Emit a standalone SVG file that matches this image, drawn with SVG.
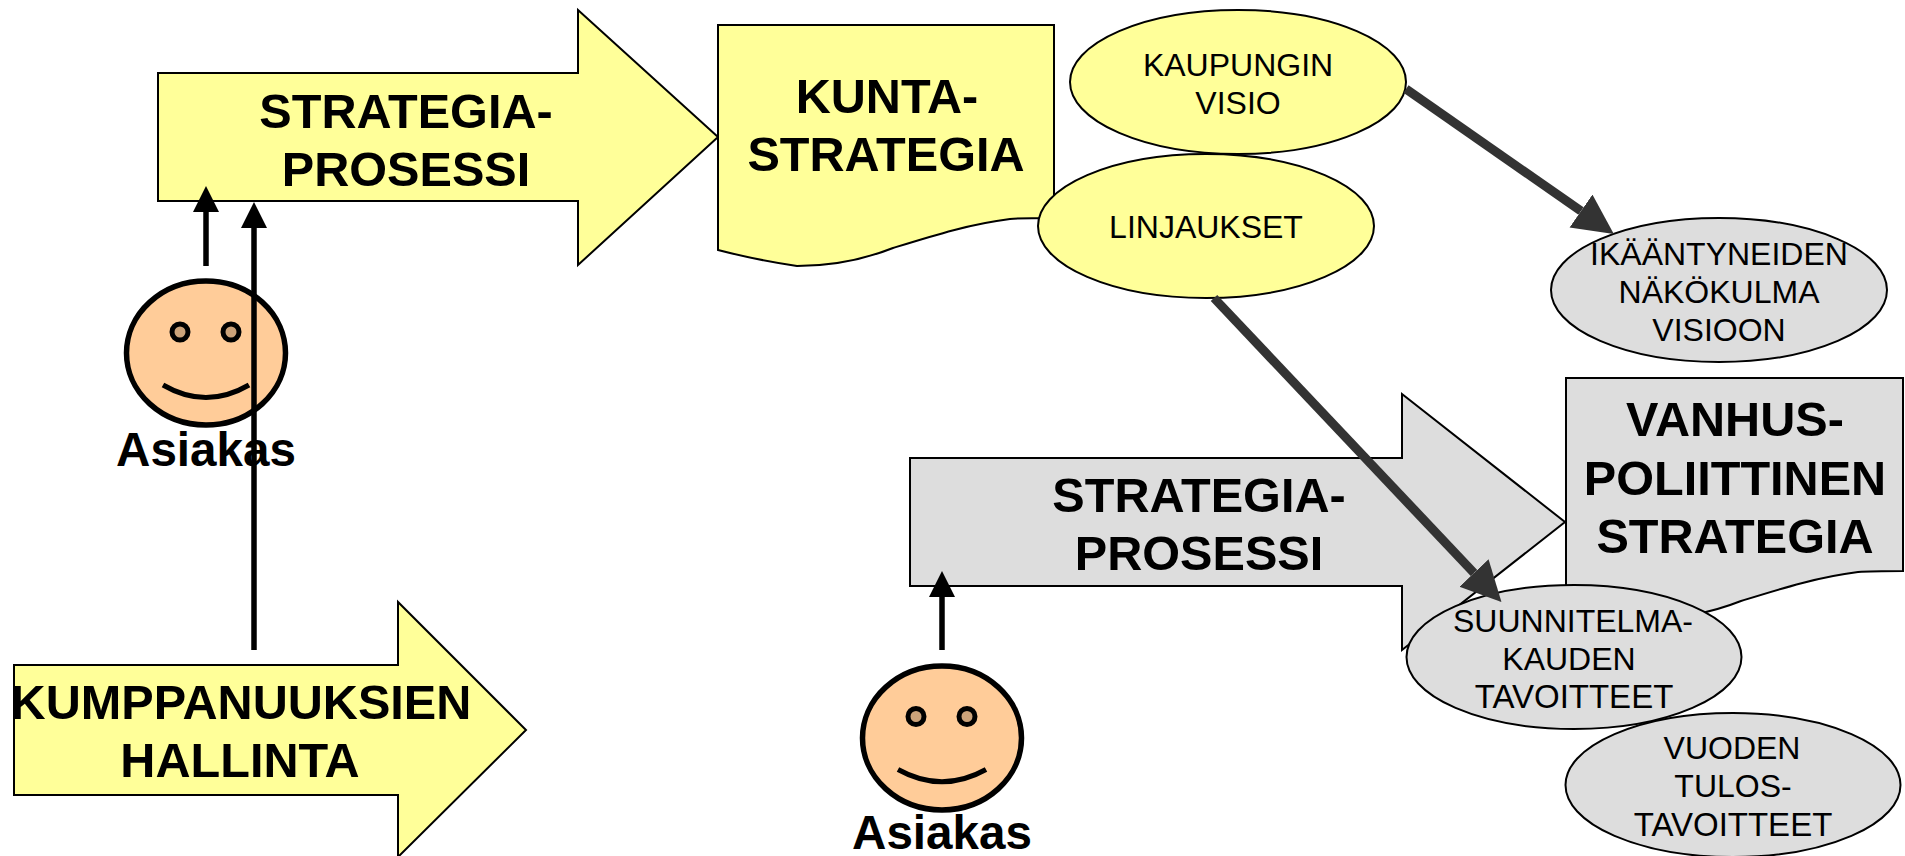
<svg xmlns="http://www.w3.org/2000/svg" width="1905" height="856" viewBox="0 0 1905 856">
<style>
text{font-family:"Liberation Sans",Arial,sans-serif;fill:#000;text-anchor:middle}
.b{font-weight:bold;font-size:48.6px}
.n{font-size:32px}
.t{font-size:33px}
.a{font-weight:bold;font-size:47.600px}
.y{fill:#FFFF99;stroke:#000;stroke-width:2}
.g{fill:#DDDDDD;stroke:#000;stroke-width:2}
.skin{fill:#FFCC99;stroke:#000;stroke-width:5.500}
.eye{fill:#CCA37A;stroke:#000;stroke-width:5}
.smile{fill:none;stroke:#000;stroke-width:5}
.k{fill:none;stroke:#000;stroke-width:5.500}
.d{fill:none;stroke:#333;stroke-width:9}
</style>
<defs>
<marker id="ka" markerUnits="userSpaceOnUse" markerWidth="28" markerHeight="28" refX="0" refY="13" orient="auto"><path d="M0 0L26 13L0 26Z" fill="#000"/></marker>
<marker id="da" markerUnits="userSpaceOnUse" markerWidth="44" markerHeight="44" refX="0" refY="20" orient="auto"><path d="M0 0L40 20L0 40Z" fill="#333"/></marker>
</defs>
<g id="arrow-strategia-1"><path class="y" d="M158 73H578V10L718 137L578 265V201H158Z"/><text class="b" x="406" y="128">STRATEGIA-</text><text class="b" x="406" y="186">PROSESSI</text></g>
<g id="doc-kuntastrategia"><path class="y" d="M718 25H1054V218C1035 218 1022 218 1010 219C970 224 935 235 893 248C860 261 830 266 797 266C770 262 745 257 718 250Z"/><text class="b" x="887" y="113">KUNTA-</text><text class="b" x="886" y="171">STRATEGIA</text></g>
<g id="ell-visio"><ellipse class="y" cx="1238" cy="82" rx="168" ry="72"/><text class="n" x="1238" y="76">KAUPUNGIN</text><text class="n" x="1238" y="114">VISIO</text></g>
<g id="ell-linjaukset"><ellipse class="y" cx="1206" cy="226" rx="168" ry="72"/><text class="n" x="1206" y="238">LINJAUKSET</text></g>
<g id="ell-ikaantyneiden"><ellipse class="g" cx="1719" cy="290" rx="168" ry="72"/><text class="n" x="1719" y="265">IKÄÄNTYNEIDEN</text><text class="n" x="1719" y="303">NÄKÖKULMA</text><text class="n" x="1719" y="341">VISIOON</text></g>
<g id="arrow-strategia-2"><path class="g" d="M910 458H1402V394L1565 522L1402 650V586H910Z"/><text class="b" x="1199" y="512">STRATEGIA-</text><text class="b" x="1199" y="570">PROSESSI</text></g>
<g id="doc-vanhus"><path class="g" d="M1566 378H1903V571C1884 571 1871 571 1858 572C1818 577 1783 588 1741 601C1708 614 1678 619 1645 619C1618 615 1593 610 1566 603Z"/><text class="b" x="1735" y="436">VANHUS-</text><text class="b" x="1735" y="495">POLIITTINEN</text><text class="b" x="1735" y="553">STRATEGIA</text></g>
<g id="arrow-kumppanuus"><path class="y" d="M14 665H398V602L526 730L398 857V795H14Z"/><text class="b" x="241" y="719">KUMPPANUUKSIEN</text><text class="b" x="240" y="777">HALLINTA</text></g>
<g id="ell-suunnitelma"><ellipse class="g" cx="1574" cy="657" rx="167.500" ry="72"/><text class="n" x="1573" y="632">SUUNNITELMA-</text><text class="n" x="1569" y="670">KAUDEN</text><text class="t" x="1574" y="708">TAVOITTEET</text></g>
<g id="ell-vuoden"><ellipse class="g" cx="1733" cy="785" rx="167.500" ry="72"/><text class="n" x="1732" y="759">VUODEN</text><text class="n" x="1733" y="797">TULOS-</text><text class="t" x="1733" y="836">TAVOITTEET</text></g>
<g id="asiakas-1"><ellipse class="skin" cx="206" cy="353" rx="79.500" ry="72"/><circle class="eye" cx="180" cy="332" r="8"/><circle class="eye" cx="231" cy="332" r="8"/><path class="smile" d="M163 385Q206 410 249 385"/><text class="a" x="206" y="466">Asiakas</text></g>
<g id="asiakas-2"><ellipse class="skin" cx="942" cy="738" rx="79.500" ry="72"/><circle class="eye" cx="916" cy="716.500" r="8"/><circle class="eye" cx="967" cy="716.500" r="8"/><path class="smile" d="M898 769.500Q942 794 986 769.500"/><text class="a" x="942" y="849">Asiakas</text></g>
<g id="connectors">
<path class="k" d="M206 266V212" marker-end="url(#ka)"/>
<path class="k" d="M254 650V228" marker-end="url(#ka)"/>
<path class="k" d="M942 650V597" marker-end="url(#ka)"/>
<path class="d" d="M1406 89L1581 211" marker-end="url(#da)"/>
<path class="d" d="M1214 298L1474 573" marker-end="url(#da)"/>
</g>
</svg>
